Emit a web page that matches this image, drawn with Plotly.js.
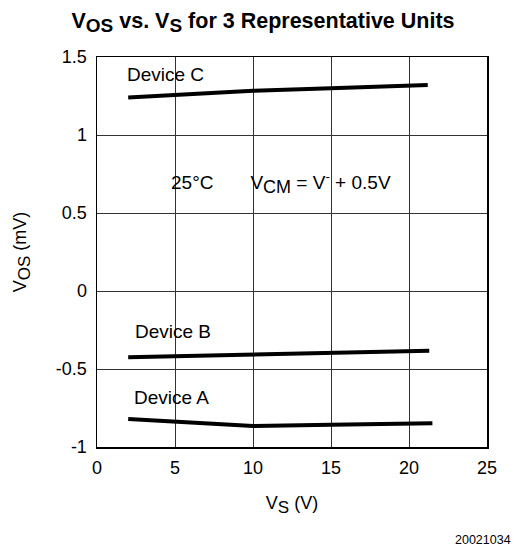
<!DOCTYPE html>
<html><head><meta charset="utf-8">
<script src="https://cdn.plot.ly/plotly-3.0.1.min.js"></script>
<style>body{margin:0;background:#fff}#chart{width:526px;height:550px}</style>
</head><body><div id="chart"></div>
<script>
const vsA = [2, 10, 15, 21.5];
const vosA = [-0.82, -0.865, -0.858, -0.848];
const vsB = [2, 10, 15, 21.3];
const vosB = [-0.425, -0.41, -0.399, -0.383];
const vsC = [2, 10, 15, 21.2];
const vosC = [1.24, 1.283, 1.30, 1.32];
const xTicks = [0, 5, 10, 15, 20, 25];
const yTicks = [-1, -0.5, 0, 0.5, 1, 1.5];
const yTickText = ['-1', '-0.5', '0', '0.5', '1', '1.5'];
const font = 'Liberation Sans, Arial, sans-serif';
const line = {color: '#000', width: 4};
const traces = [
  {x: vsA, y: vosA, mode: 'lines', line: line, name: 'Device A'},
  {x: vsB, y: vosB, mode: 'lines', line: line, name: 'Device B'},
  {x: vsC, y: vosC, mode: 'lines', line: line, name: 'Device C'}
];
const sub = (t, s) => '<sub><span style="font-size:' + s + 'px">' + t + '</span></sub>';
const ann = (x, y, text) => ({x, y, xref: 'x', yref: 'y', text, showarrow: false, font: {family: font, size: 19, color: '#000'}});
const sp = '&nbsp;'.repeat(7);
const layout = {
  width: 526, height: 550,
  margin: {l: 97, r: 39, t: 57, b: 103},
  paper_bgcolor: '#fff', plot_bgcolor: '#fff',
  showlegend: false,
  font: {family: font, size: 18, color: '#000'},
  title: {text: '<b>V' + sub('OS', 19) + ' vs. V' + sub('S', 19) + ' for 3 Representative Units</b>', x: 0.5, xanchor: 'center', y: 0.963, yanchor: 'middle', font: {family: font, size: 21.5, color: '#000'}},
  xaxis: {range: [0, 25], tickvals: xTicks, ticks: '', showgrid: true, gridcolor: '#333', gridwidth: 1,
    showline: true, linecolor: '#000', linewidth: 1.5, mirror: true, zeroline: false, fixedrange: true,
    ticklabelstandoff: 4,
    tickfont: {size: 18}, title: {text: 'V' + sub('S', 17) + ' (V)', font: {size: 18}, standoff: 19}},
  yaxis: {range: [-1, 1.5], tickvals: yTicks, ticktext: yTickText, ticks: '', showgrid: true, gridcolor: '#333', gridwidth: 1,
    showline: true, linecolor: '#000', linewidth: 1.5, mirror: true, zeroline: false, fixedrange: true,
    ticklabelstandoff: 5,
    tickfont: {size: 18}, title: {text: 'V' + sub('OS', 17) + ' (mV)', font: {size: 18}, standoff: 24}},
  annotations: [
    ann(4.42, 1.385, 'Device C'),
    ann(4.87, -0.258, 'Device B'),
    ann(4.8, -0.685, 'Device A'),
    ann(11.8, 0.69, '25°C' + sp + 'V' + sub('CM', 18) + ' = V<sup>-</sup> + 0.5V'),
    {x: 1.067, y: -0.238, xref: 'paper', yref: 'paper', xanchor: 'right', yanchor: 'middle', text: '20021034', showarrow: false, font: {family: font, size: 12.5, color: '#000'}}
  ]
};
Plotly.newPlot('chart', traces, layout, {displayModeBar: false, staticPlot: true});
</script></body></html>
